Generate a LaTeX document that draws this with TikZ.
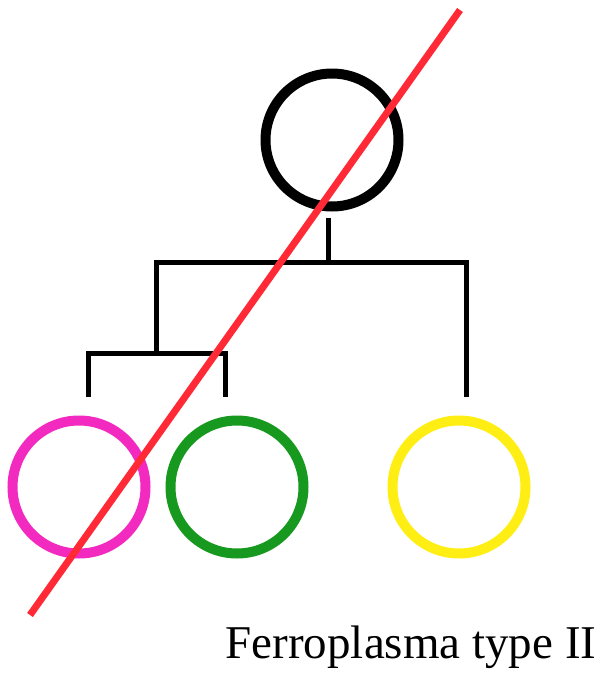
\documentclass[tikz,border=0pt]{standalone}
\usepackage{fontspec}
\setmainfont{Liberation Serif}
\usepackage{tikz}
\definecolor{famred}{HTML}{FF2A35}
\definecolor{fammagenta}{HTML}{F22ABF}
\definecolor{famgreen}{HTML}{17991F}
\definecolor{famyellow}{HTML}{FFEE14}

\begin{document}
\begin{tikzpicture}[
  x=1pt,y=-1pt,
  member/.style={draw=#1,circle,line width=10pt,minimum size=133pt,inner sep=0pt},
  link/.style={line width=5pt,black},
  strike/.style={line width=7pt,famred}
]
\useasboundingbox (0,0) rectangle (613,675);
\node[member=black] (parent) at (332,140) {};
\node[member=fammagenta] (childa) at (79,487) {};
\node[member=famgreen] (childb) at (237,487) {};
\node[member=famyellow] (childc) at (459,487) {};

\coordinate (stub) at (328,218);
\coordinate (split) at (328,262);
\coordinate (inner) at (156,262);
\coordinate (outer) at (466,262);
\coordinate (innersplit) at (156,353);
\coordinate (lefttop) at (88,353);
\coordinate (righttop) at (225,353);
\coordinate (leftend) at (88,397);
\coordinate (rightend) at (225,397);
\coordinate (outerend) at (466,397);

\draw[link] (stub) -- (split);
\draw[link] (innersplit) -- (inner) -- (outer) -- (outerend);
\draw[link] (leftend) -- (lefttop) -- (righttop) -- (rightend);

\coordinate (strikea) at (30,615);
\coordinate (strikeb) at (460,10);
\draw[strike] (strikea) -- (strikeb);

\node[anchor=base,font=\fontsize{47}{56}\selectfont,inner sep=0pt] (label) at (411,658) {Ferroplasma type II};
\end{tikzpicture}
\end{document}
